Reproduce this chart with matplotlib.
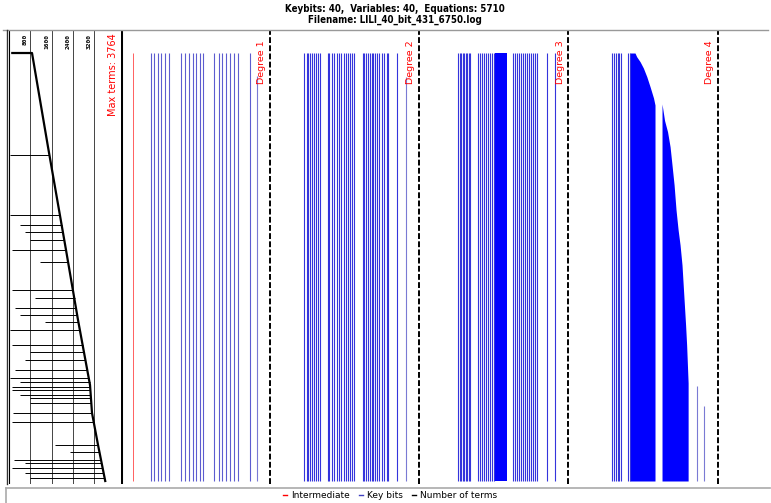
"""Equation-system term map for LILI_40_bit_431_6750.log.

Left strip: number of terms per equation (equations run top to bottom).
Right part: one column block per degree, a vertical line for every monomial
that shows up, drawn from the first equation that uses it down to the last.
"""
import matplotlib
matplotlib.use("Agg")
import matplotlib.pyplot as plt
from matplotlib.lines import Line2D

W, H = 771, 503

n_equations = 5710
max_terms = 3764
term_ticks = [800, 1600, 2400, 3200]

# number of terms: main envelope (row, terms)
env_rows = [0, 0, 1254, 2628, 3562, 4429, 4802, 5229, 5710]
env_terms = [113, 857, 1461, 2140, 2593, 3046, 3121, 3348, 3620]

# drops of the term count at single equations
spike_rows = [1361, 2161, 2294, 2388, 2494, 2628, 2788, 3162, 3268, 3402, 3495,
              3588, 3695, 3895, 3989, 4095, 4229, 4336, 4389, 4456, 4496, 4562,
              4602, 4669, 4802, 4922, 5229, 5323, 5429, 5469, 5536, 5603, 5669]
spike_low = [26, 26, 404, 593, 781, 102, 1159, 102, 970, 215, 404,
             1347, 26, 102, 781, 593, 215, 26, 404, 102, 102, 404,
             781, 781, 140, 102, 1725, 2291, 177, 593, 102, 593, 781]
spike_high = [1517, 1913, 1989, 2027, 2083, 2140, 2215, 2404, 2461, 2517, 2555,
              2593, 2668, 2763, 2819, 2857, 2932, 2989, 3027, 3046, 3046, 3064,
              3083, 3083, 3121, 3197, 3347, 3385, 3442, 3461, 3499, 3536, 3555]

# monomial columns, position in percent of each degree block
intermediate_pos = [8.4]
deg1_pos = [20.1, 22.1, 24.8, 27.0, 29.5, 32.2,
            40.4, 42.9, 45.6, 48.3, 50.5, 53.2, 55.4,
            62.7, 65.7, 68.1, 70.6, 73.3, 76.0, 78.6,
            86.6]
deg2_pos = [23.1, 24.7, 25.7, 26.9, 28.0, 29.6, 30.9, 32.4, 33.8,
            39.1, 39.8, 41.4, 43.2, 44.8, 46.5, 47.7, 49.7, 51.0, 52.5, 53.7, 55.2, 56.6,
            62.6, 63.1, 64.4, 66.0, 67.1, 68.2, 69.3, 70.4, 71.6, 73.3, 74.9, 76.5, 78.3, 79.4,
            85.4]
deg3_pos = [26.3, 27.1, 28.1, 29.1, 30.2, 31.2, 32.2, 33.2, 34.2,
            39.7, 40.8, 42.2, 43.5, 44.8, 46.2, 47.5, 48.9, 50.2,
            63.1, 64.3, 65.6, 67.0, 68.3, 69.6, 71.0, 72.3, 73.7, 75.0, 76.3, 77.7, 78.8,
            85.9, 91.1]
deg3_solid = (50.9, 58.7)
deg4_pos = [29.5, 30.6, 32.0, 33.1, 34.2, 35.1, 40.1, 41.4]

# columns that only start further down (degree, position, first row)
late_deg = [1, 2, 4, 4]
late_pos = [91.2, 91.0, 86.1, 91.2]
late_row = [307, 320, 4442, 4709]

# degree 4 dense blocks: top edge (position, first row)
deg4_b_pos = [41.4, 44.7, 45.8, 48.1, 50.3, 52.6, 54.8, 57.1, 58.1]
deg4_b_row = [0, 0, 49, 116, 200, 316, 450, 600, 694]
deg4_c_pos = [62.8, 64.5, 66.5, 68.2, 69.5, 70.9, 72.2, 73.6, 74.9,
              76.2, 77.6, 78.6, 79.3, 80.3]
deg4_c_row = [680, 900, 1050, 1250, 1494, 1761, 2094, 2361, 2561,
              2828, 3295, 3628, 3895, 4402]

BLUE = "#0000ff"
RED = "#ff0000"

fig = plt.figure(figsize=(W / 100, H / 100), dpi=100)


def px_box(x0, x1, y0, y1):
    return [x0 / W, 1 - y1 / H, (x1 - x0) / W, (y1 - y0) / H]


ylim = (5750, -307)
ax_t = fig.add_axes(px_box(9.3, 120.7, 30, 484))
ax_d = fig.add_axes(px_box(120.7, 769, 30, 484))
for ax in (ax_t, ax_d):
    ax.set_ylim(*ylim)
    ax.set_xticks([])
    ax.set_yticks([])
    for s in ax.spines.values():
        s.set_visible(False)

# ---- terms strip
ax_t.set_xlim(0, 4204)
ax_t.axvline(0, color="black", lw=0.8)
for t in term_ticks:
    ax_t.axvline(t, color="#444444", lw=0.7)
    ax_t.text(t - 90, -260, str(t), rotation=90, ha="right", va="top",
              fontsize=4.5, fontweight="bold", family="DejaVu Sans Mono")
ax_t.plot(env_terms, env_rows, color="black", lw=1.6)
ax_t.hlines(spike_rows, spike_low, spike_high, color="black", lw=0.7)
ax_t.text(4090, -260, f"Max terms: {max_terms}", rotation=90, ha="right", va="top",
          fontsize=7, color=RED)

# ---- degree blocks
ax_d.set_xlim(0, 434.5)
bottom = n_equations
line_kw = dict(color="#3434dc", lw=0.8)
ax_d.vlines(intermediate_pos, 0, bottom, color="#ff6060", lw=0.7)
# degree 1 columns come out a bit paler in the original
ax_d.vlines(deg1_pos, 0, bottom, color="#5c5cd0", lw=0.8)
for d, pos in enumerate([deg2_pos, deg3_pos, deg4_pos], start=1):
    ax_d.vlines([d * 100 + p for p in pos], 0, bottom, **line_kw)
ax_d.fill_between([200 + deg3_solid[0], 200 + deg3_solid[1]], 0, bottom,
                  color=BLUE, lw=0)
ax_d.vlines([(d - 1) * 100 + p for d, p in zip(late_deg, late_pos)], late_row, bottom,
            color="#7a7ad4", lw=0.8)
ax_d.fill_between([300 + p for p in deg4_b_pos], deg4_b_row, bottom, color=BLUE, lw=0)
ax_d.fill_between([300 + p for p in deg4_c_pos], deg4_c_row, bottom, color=BLUE, lw=0)

ax_d.axvline(0, color="black", lw=2.2)
for d in range(1, 5):
    ax_d.axvline(d * 100, color="black", lw=1.4, ls=(0, (3, 1.2)))
    ax_d.text(d * 100 - 2.5, -175, f"Degree {d}", rotation=90, ha="right", va="top",
              fontsize=6.8, color=RED)

# ---- frame pieces
frame = dict(transform=fig.transFigure, lw=1)
fig.add_artist(Line2D([3 / W, 768 / W], [1 - 30 / H] * 2, color="#999999", **frame))
fig.add_artist(Line2D([6.7 / W] * 2, [1 - 30 / H, 1 - 484 / H], color="#333333", **frame))
fig.add_artist(Line2D([6 / W, 770 / W], [1 - 487.5 / H] * 2, color="#aaaaaa", lw=1.2,
                      transform=fig.transFigure))
fig.add_artist(Line2D([6 / W] * 2, [1 - 487.5 / H, 0], color="#aaaaaa", lw=1.2,
                      transform=fig.transFigure))

title_kw = dict(ha="center", va="center", fontsize=7, fontweight="bold",
                family="DejaVu Sans", fontstretch="condensed")
fig.text(395 / W, 1 - 9 / H, "Keybits: 40,  Variables: 40,  Equations: 5710", **title_kw)
fig.text(395 / W, 1 - 20 / H, "Filename: LILI_40_bit_431_6750.log", **title_kw)

handles = [Line2D([], [], color=RED, lw=1), Line2D([], [], color="#4040c0", lw=1),
           Line2D([], [], color="black", lw=1)]
fig.legend(handles, ["Intermediate", "Key bits", "Number of terms"], loc="center",
           bbox_to_anchor=(390 / W, 1 - 496 / H), ncol=3, frameon=False, fontsize=6.5,
           handlelength=0.5, handletextpad=0.4, columnspacing=1.0, borderpad=0)

fig.savefig("out.png", dpi=100)
